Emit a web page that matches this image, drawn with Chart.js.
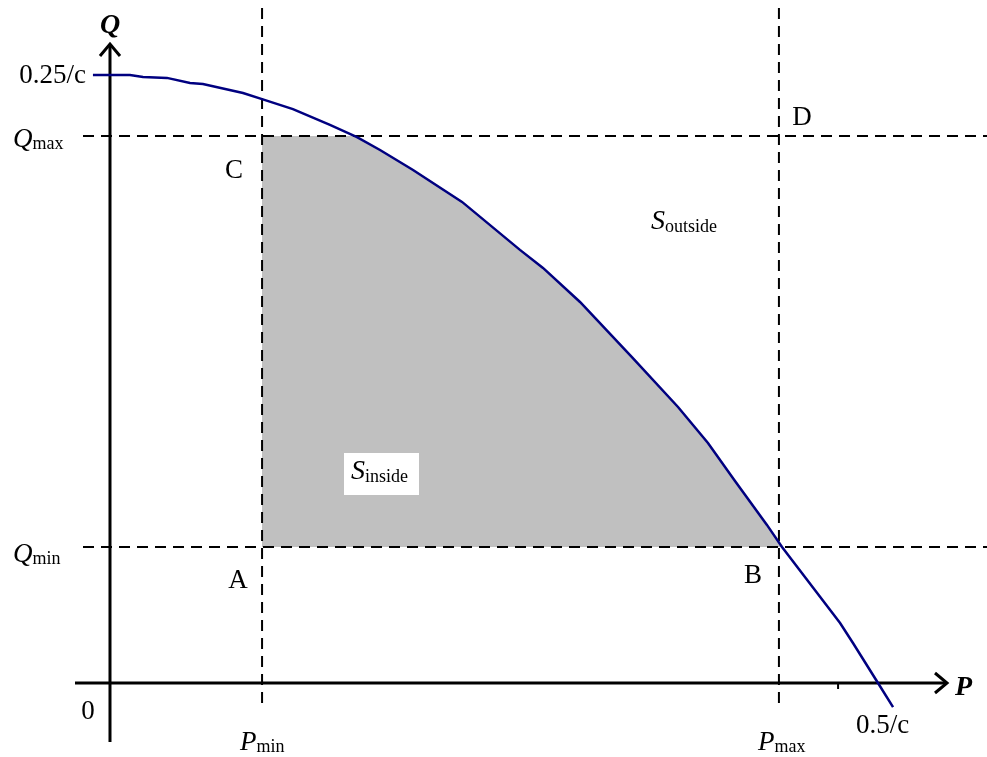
<!DOCTYPE html>
<html>
<head>
<meta charset="utf-8">
<script src="https://cdn.jsdelivr.net/npm/chart.js@4"></script>
<style>
    body { margin: 0; background: #fff; }
    #box { width: 987px; height: 757px; }
</style>
</head>
<body>
<div id="box"><canvas id="curva"></canvas></div>
<script>
// capability curve, P and Q in units of 1/c
const curveP = [-0.0111, 0.0130, 0.0215, 0.0371, 0.0521, 0.0605, 0.0866, 0.0990, 0.1191, 0.1432, 0.1608, 0.1758,
    0.1973, 0.2292, 0.2669, 0.2819, 0.3060, 0.3398, 0.3698, 0.3893, 0.4069, 0.4277, 0.4375, 0.4753, 0.4837, 0.5000, 0.5098];
const curveQ = [0.2496, 0.2496, 0.2488, 0.2484, 0.2463, 0.2459, 0.2422, 0.2397, 0.2356, 0.2291, 0.2241, 0.2188,
    0.2106, 0.1975, 0.1778, 0.1704, 0.1564, 0.1338, 0.1133, 0.0985, 0.0829, 0.0649, 0.0558, 0.0246, 0.0164, 0.0000, -0.0099];

// limits of the operating box
const pLimits = [0.0990, 0.4355];   // Pmin, Pmax
const qLimits = [0.0558, 0.2245];   // Qmin, Qmax
const xTicks = [0.474];

const serif = '"Liberation Serif", "Times New Roman", serif';
const curvePoints = curveP.map((p, i) => ({ x: p, y: curveQ[i] }));

function label(ctx, main, sub, x, y, mainFont, subFont, dy) {
    ctx.font = mainFont;
    ctx.textAlign = 'left';
    ctx.fillText(main, x, y);
    let w = ctx.measureText(main).width;
    if (sub) {
        ctx.font = subFont;
        ctx.fillText(sub, x + w, y + (dy || 2));
    }
}

const diagrama = {
    id: 'diagrama',
    beforeDatasetsDraw(chart) {
        const ctx = chart.ctx;
        const xs = chart.scales.x, ys = chart.scales.y;
        const xMin = xs.getPixelForValue(pLimits[0]), xMax = xs.getPixelForValue(pLimits[1]);
        const yMin = ys.getPixelForValue(qLimits[0]), yMax = ys.getPixelForValue(qLimits[1]);

        // shaded feasible region under the curve
        ctx.save();
        ctx.beginPath();
        ctx.rect(xMin, yMax, chart.width - xMin, yMin - yMax);
        ctx.clip();
        ctx.beginPath();
        ctx.moveTo(xs.getPixelForValue(curveP[0]), yMin);
        curvePoints.forEach(pt => ctx.lineTo(xs.getPixelForValue(pt.x), ys.getPixelForValue(pt.y)));
        ctx.lineTo(xs.getPixelForValue(curveP[curveP.length - 1]), yMin);
        ctx.closePath();
        ctx.fillStyle = '#c0c0c0';
        ctx.fill();
        ctx.restore();

        // dashed limit lines
        ctx.save();
        ctx.strokeStyle = '#000';
        ctx.lineWidth = 2;
        ctx.setLineDash([11, 7]);
        ctx.beginPath();
        [xMin, xMax].forEach(x => { ctx.moveTo(x, 8); ctx.lineTo(x, 710); });
        [yMin, yMax].forEach(y => { ctx.moveTo(83, y); ctx.lineTo(chart.width, y); });
        ctx.stroke();
        ctx.restore();

        // axes with arrows
        const x0 = xs.getPixelForValue(0), y0 = ys.getPixelForValue(0);
        ctx.save();
        ctx.strokeStyle = '#000';
        ctx.lineWidth = 3;
        ctx.beginPath();
        ctx.moveTo(75, y0); ctx.lineTo(947, y0);
        ctx.moveTo(x0, 742); ctx.lineTo(x0, 44);
        ctx.stroke();
        ctx.beginPath();
        ctx.moveTo(935, y0 - 10); ctx.lineTo(947, y0); ctx.lineTo(935, y0 + 10);
        ctx.moveTo(x0 - 10, 56); ctx.lineTo(x0, 44); ctx.lineTo(x0 + 10, 56);
        ctx.stroke();
        ctx.lineWidth = 2;
        ctx.beginPath();
        xTicks.forEach(t => { const x = xs.getPixelForValue(t); ctx.moveTo(x, y0); ctx.lineTo(x, y0 + 6); });
        ctx.stroke();
        ctx.restore();
    },
    afterDatasetsDraw(chart) {
        const ctx = chart.ctx;
        ctx.save();
        ctx.textBaseline = 'alphabetic';

        // white box behind S inside
        ctx.fillStyle = '#fff';
        ctx.fillRect(344, 453, 75, 42);
        ctx.fillStyle = '#000';

        const it = 'italic 27px ' + serif, sm = '18px ' + serif, big = '27px ' + serif;
        label(ctx, 'Q', 'max', 13, 147, it, sm);
        label(ctx, 'Q', 'min', 13, 562, it, sm);
        label(ctx, 'P', 'min', 240, 750, it, sm);
        label(ctx, 'P', 'max', 758, 750, it, sm);
        label(ctx, 'S', 'outside', 651, 229, 'italic 28px ' + serif, sm, 3);
        label(ctx, 'S', 'inside', 351, 479, 'italic 28px ' + serif, sm, 3);
        label(ctx, '0.5/c', null, 856, 733, big);

        ctx.font = big;
        ctx.textAlign = 'right';
        ctx.fillText('0.25/c', 86, 83);
        ctx.textAlign = 'center';
        ctx.fillText('0', 88, 719);
        ctx.fillText('A', 238, 588);
        ctx.fillText('B', 753, 583);
        ctx.fillText('C', 234, 178);
        ctx.fillText('D', 802, 125);

        ctx.font = 'italic bold 28px ' + serif;
        ctx.fillText('Q', 110, 33);
        ctx.textAlign = 'left';
        ctx.fillText('P', 955, 695);
        ctx.restore();
    }
};

let curva = new Chart(document.getElementById("curva"), {
    type: 'scatter',
    data: {
        datasets: [
            {
                data: curvePoints,
                showLine: true,
                borderColor: "#000080",
                borderWidth: 2.5,
                pointRadius: 0,
                tension: 0
            }
        ]
    },
    options: {
        responsive: true,
        maintainAspectRatio: false,
        animation: false,
        events: [],
        layout: { padding: 0 },
        scales: {
            x: { type: 'linear', min: -0.07161, max: 0.57096, display: false },
            y: { type: 'linear', min: -0.03038, max: 0.28038, display: false }
        },
        plugins: {
            legend: { display: false },
            tooltip: { enabled: false }
        }
    },
    plugins: [diagrama]
});
</script>
</body>
</html>
